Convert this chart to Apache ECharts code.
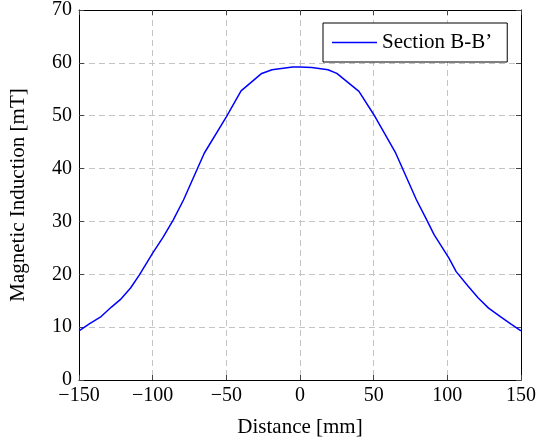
<!DOCTYPE html>
<html>
<head>
<meta charset="utf-8">
<script src="https://cdn.jsdelivr.net/npm/echarts@6/dist/echarts.min.js"></script>
<style>
    html, body { margin: 0; padding: 0; background: #fff; }
    #main { width: 540px; height: 444px; }
</style>
</head>
<body>
<div id="main"></div>
<script>
// distance [mm] and induction [mT]
var distance = [-150, -143, -135, -128, -122, -115, -109, -100, -93, -86, -79, -65, -50, -40, -26, -19, -5, 0, 8, 19, 25, 40, 51, 65, 79, 86, 91, 101, 106, 114, 121, 128, 136, 143, 150];
var induction = [9.3, 10.6, 12.0, 13.8, 15.2, 17.4, 19.9, 24.0, 27.0, 30.3, 34.1, 42.9, 49.8, 54.7, 58.0, 58.7, 59.2, 59.2, 59.1, 58.7, 58.0, 54.6, 49.8, 42.9, 34.1, 30.3, 27.5, 23.1, 20.5, 17.8, 15.5, 13.6, 12.0, 10.6, 9.3];
var seriesName = 'Section B-B\u2019';

var myChart = echarts.init(document.getElementById('main'));

var points = [];
for (var i = 0; i < distance.length; i++) {
    points.push([distance[i], induction[i]]);
}

var fontFamily = '"Liberation Serif", "DejaVu Serif", serif';
var gridLine = {
    show: true,
    lineStyle: { color: '#c4c4c4', type: [6, 4], width: 1 }
};
var frame = { show: true, onZero: false, lineStyle: { color: '#000', width: 1 } };
var ticks = { show: true, inside: true, length: 5, lineStyle: { color: '#444' } };

var option = {
    animation: false,
    grid: {
        left: 75,
        right: 19,
        top: 10,
        bottom: 64
    },
    legend: {
        data: [seriesName],
        left: 323,
        top: 23,
        padding: [9, 15, 9, 9],
        icon: 'rect',
        itemWidth: 45,
        itemHeight: 1.5,
        backgroundColor: '#fff',
        borderColor: '#000',
        borderWidth: 1,
        borderRadius: 0,
        textStyle: { fontFamily: fontFamily, fontSize: 21, color: '#000' }
    },
    xAxis: [{
        type: 'value',
        min: -150,
        max: 150,
        interval: 50,
        name: 'Distance [mm]',
        nameLocation: 'middle',
        nameGap: 37,
        nameTextStyle: { fontFamily: fontFamily, fontSize: 21, color: '#000' },
        axisLine: frame,
        axisTick: ticks,
        splitLine: gridLine,
        axisLabel: {
            margin: 6,
            fontFamily: fontFamily,
            fontSize: 20,
            color: '#000',
            formatter: function (v) {
                return v < 0 ? '\u2212' + Math.abs(v) : '' + v;
            }
        }
    }, {
        type: 'value',
        position: 'top',
        min: -150,
        max: 150,
        interval: 50,
        axisLine: frame,
        axisTick: ticks,
        axisLabel: { show: false },
        splitLine: { show: false }
    }],
    yAxis: [{
        type: 'value',
        min: 0,
        max: 70,
        interval: 10,
        name: 'Magnetic Induction [mT]',
        nameLocation: 'middle',
        nameGap: 50,
        nameTextStyle: { fontFamily: fontFamily, fontSize: 21, color: '#000' },
        axisLine: frame,
        axisTick: ticks,
        splitLine: gridLine,
        axisLabel: { margin: 7, fontFamily: fontFamily, fontSize: 20, color: '#000' }
    }, {
        type: 'value',
        position: 'right',
        min: 0,
        max: 70,
        interval: 10,
        axisLine: frame,
        axisTick: ticks,
        axisLabel: { show: false },
        splitLine: { show: false }
    }],
    series: [{
        name: seriesName,
        type: 'line',
        data: points,
        showSymbol: false,
        symbol: 'none',
        smooth: false,
        itemStyle: { color: '#0000ff' },
        lineStyle: { color: '#0000ff', width: 1.5 }
    }]
};

myChart.setOption(option);
</script>
</body>
</html>
